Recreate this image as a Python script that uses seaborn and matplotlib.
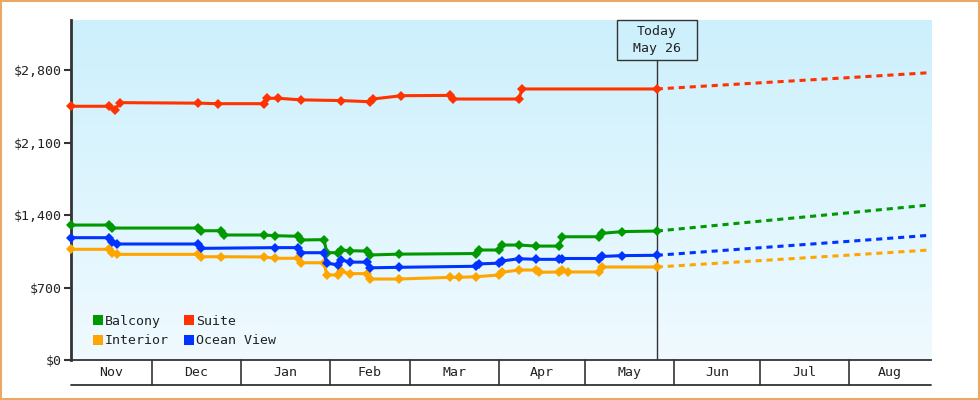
import pandas as pd
import numpy as np
import matplotlib
matplotlib.use('Agg')
import matplotlib.pyplot as plt
import matplotlib.dates as mdates
import matplotlib.transforms as mtransforms
from matplotlib.colors import LinearSegmentedColormap
from matplotlib.lines import Line2D
from matplotlib.patches import Rectangle
import seaborn as sns

# cabin price history
balcony_dates = ['2022-11-03', '2022-11-16', '2022-11-17', '2022-12-17', '2022-12-18', '2022-12-25',
                 '2022-12-26', '2023-01-09', '2023-01-13', '2023-01-21', '2023-01-22', '2023-01-30',
                 '2023-01-31', '2023-02-04', '2023-02-05', '2023-02-08', '2023-02-14', '2023-02-15',
                 '2023-02-25', '2023-03-24', '2023-03-25', '2023-04-01', '2023-04-02', '2023-04-08',
                 '2023-04-14', '2023-04-22', '2023-04-23', '2023-05-06', '2023-05-07', '2023-05-14',
                 '2023-05-26']
balcony_prices = [1303, 1303, 1274, 1274, 1248, 1248,
                  1207, 1207, 1200, 1195, 1159, 1162,
                  1036, 1036, 1062, 1055, 1052, 1014,
                  1022, 1028, 1062, 1062, 1110, 1110,
                  1100, 1100, 1190, 1190, 1223, 1240,
                  1245]

ocean_dates = ['2022-11-03', '2022-11-16', '2022-11-17', '2022-11-19', '2022-12-17', '2022-12-18',
               '2023-01-13', '2023-01-21', '2023-01-22', '2023-01-30', '2023-01-31', '2023-02-04',
               '2023-02-05', '2023-02-08', '2023-02-14', '2023-02-15', '2023-02-25', '2023-03-24',
               '2023-03-25', '2023-04-01', '2023-04-02', '2023-04-08', '2023-04-14', '2023-04-22',
               '2023-04-23', '2023-05-06', '2023-05-07', '2023-05-14', '2023-05-26']
ocean_prices = [1181, 1181, 1142, 1120, 1120, 1078,
                1085, 1085, 1036, 1036, 933, 920,
                968, 945, 945, 890, 895, 905,
                928, 935, 956, 978, 972, 972,
                980, 980, 1000, 1008, 1011]

interior_dates = ['2022-11-03', '2022-11-16', '2022-11-17', '2022-11-19', '2022-12-17', '2022-12-18',
                  '2022-12-25', '2023-01-09', '2023-01-13', '2023-01-21', '2023-01-22', '2023-01-30',
                  '2023-01-31', '2023-02-04', '2023-02-05', '2023-02-08', '2023-02-14', '2023-02-15',
                  '2023-02-25', '2023-03-15', '2023-03-18', '2023-03-24', '2023-04-01', '2023-04-02',
                  '2023-04-08', '2023-04-14', '2023-04-15', '2023-04-22', '2023-04-23', '2023-04-25',
                  '2023-05-06', '2023-05-07', '2023-05-26']
interior_prices = [1069, 1069, 1036, 1020, 1020, 997,
                   997, 995, 982, 982, 939, 939,
                   821, 821, 855, 834, 834, 782,
                   782, 798, 798, 804, 821, 847,
                   869, 869, 847, 850, 866, 850,
                   850, 898, 898]

suite_dates = ['2022-11-03', '2022-11-16', '2022-11-18', '2022-11-20', '2022-12-17', '2022-12-24',
               '2023-01-09', '2023-01-10', '2023-01-14', '2023-01-22', '2023-02-05', '2023-02-15',
               '2023-02-16', '2023-02-26', '2023-03-15', '2023-03-16', '2023-04-08', '2023-04-09',
               '2023-05-26']
suite_prices = [2450, 2450, 2414, 2485, 2480, 2475,
                2475, 2527, 2527, 2512, 2505, 2494,
                2520, 2552, 2555, 2520, 2520, 2617,
                2617]

# projected prices after today
proj_dates = ['2023-05-26', '2023-06-30', '2023-07-31', '2023-08-29']
balcony_proj = [1245, 1338, 1419, 1497]
ocean_proj = [1011, 1082, 1144, 1204]
interior_proj = [898, 958, 1011, 1062]
suite_proj = [2617, 2675, 2725, 2774]

cabins = ['Balcony', 'Interior', 'Suite', 'Ocean View']
colors = {'Balcony': '#009900', 'Interior': '#ffa500', 'Suite': '#ff3300', 'Ocean View': '#0033ff'}
y_ticks = [0, 700, 1400, 2100, 2800]
today = pd.Timestamp('2023-05-26')


def long_frame(parts):
    rows = []
    for name, dates, prices in parts:
        rows.append(pd.DataFrame({'date': pd.to_datetime(dates), 'price': prices, 'cabin': name}))
    return pd.concat(rows, ignore_index=True)


def main():
    hist = long_frame([('Balcony', balcony_dates, balcony_prices),
                       ('Interior', interior_dates, interior_prices),
                       ('Suite', suite_dates, suite_prices),
                       ('Ocean View', ocean_dates, ocean_prices)])
    proj = long_frame([('Balcony', proj_dates, balcony_proj),
                       ('Interior', proj_dates, interior_proj),
                       ('Suite', proj_dates, suite_proj),
                       ('Ocean View', proj_dates, ocean_proj)])

    sns.set_theme(style='white')
    plt.rcParams['font.family'] = ['DejaVu Sans Mono', 'DejaVu Sans']
    text_col = '#222222'
    line_col = '#333333'

    fig = plt.figure(figsize=(9.8, 4), dpi=100)
    ax = fig.add_axes([71 / 980, 40 / 400, 860 / 980, 340 / 400])

    sns.lineplot(data=proj, x='date', y='price', hue='cabin', palette=colors,
                 estimator=None, sort=False, legend=False, ax=ax,
                 linewidth=2.2, linestyle=(0, (2, 1.6)), zorder=3)
    sns.lineplot(data=hist, x='date', y='price', hue='cabin', palette=colors,
                 estimator=None, sort=False, legend=False, ax=ax,
                 linewidth=2.2, marker='D', markersize=5.3, markeredgewidth=0,
                 clip_on=False, zorder=4)

    x0 = pd.Timestamp('2022-11-02 20:00')
    x1 = pd.Timestamp('2023-08-29 14:00')

    # gradient background
    cmap = LinearSegmentedColormap.from_list('bg', ['#f0faff', '#ccf0fc'])
    grad = np.linspace(0, 1, 256).reshape(-1, 1)
    ax.imshow(grad, cmap=cmap, origin='lower', aspect='auto',
              extent=[0, 1, 0, 1], transform=ax.transAxes, zorder=0)

    ax.set_xlim(x0, x1)
    ax.set_ylim(0, 3283)

    # y axis
    ax.set_yticks(y_ticks)
    ax.set_yticklabels([f'${v:,}' for v in y_ticks])
    ax.tick_params(axis='y', direction='out', length=5, width=1.5, color=line_col,
                   labelsize=9.5, labelcolor=text_col, pad=2, left=True)
    ax.set_xticks([])
    ax.set_xlabel('')
    ax.set_ylabel('')
    for side in ['top', 'right']:
        ax.spines[side].set_visible(False)
    ax.spines['left'].set_color(line_col)
    ax.spines['left'].set_linewidth(2)
    ax.spines['bottom'].set_color(line_col)
    ax.spines['bottom'].set_linewidth(1.3)

    # month band under the axis
    trans = mtransforms.blended_transform_factory(ax.transData, ax.transAxes)
    band = -25 / 340
    starts = pd.date_range('2022-11-01', '2023-09-01', freq='MS')
    ax.plot([0, 1], [band, band], transform=ax.transAxes, color=line_col, lw=1.3, clip_on=False)
    for a, b in zip(starts[:-1], starts[1:]):
        left = max(a, x0)
        right = min(b, x1)
        if a > x0:
            ax.plot([a, a], [band, 0], transform=trans, color=line_col, lw=1.2, clip_on=False)
        mid = left + (right - left) / 2
        ax.text(mid, band / 2, a.strftime('%b'), transform=trans, ha='center', va='center',
                fontsize=9.5, color=text_col)

    # today marker
    box_top, box_bot = 1.0, (360 - 60) / 340
    ax.plot([today, today], [0, box_bot], transform=trans, color=line_col, lw=1, zorder=2)
    half_w = pd.Timedelta(days=14)
    ax.add_patch(Rectangle((mdates.date2num(today - half_w), box_bot),
                           mdates.date2num(today + half_w) - mdates.date2num(today - half_w),
                           box_top - box_bot, transform=trans, fill=False,
                           edgecolor=line_col, lw=1, clip_on=False, zorder=5))
    ax.text(today, (box_top + box_bot) / 2, 'Today\nMay 26', transform=trans,
            ha='center', va='center', fontsize=9.5, color=text_col, linespacing=1.45, zorder=6)

    handles = [Line2D([], [], marker='s', linestyle='none', markersize=7.5,
                      markerfacecolor=colors[c], markeredgewidth=0) for c in cabins]
    ax.legend(handles, cabins, ncol=2, loc='lower left', bbox_to_anchor=(0.0145, 0.010),
              frameon=False, fontsize=9.5, handlelength=0.8, handletextpad=0.15,
              columnspacing=1.07, labelspacing=0.5, borderpad=0.2, labelcolor=text_col)

    fig.patches.append(Rectangle((0.001, 0.0015), 0.998, 0.997, transform=fig.transFigure,
                                 fill=False, edgecolor='#e8a866', lw=1.5))

    fig.savefig('out.png', dpi=100)


if __name__ == '__main__':
    main()
